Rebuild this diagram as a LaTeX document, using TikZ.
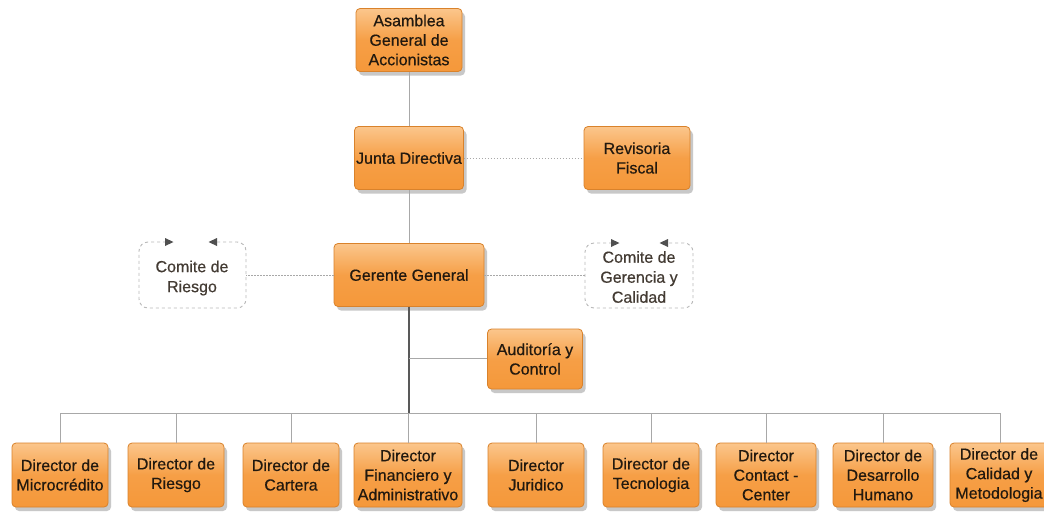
\documentclass[tikz,border=0pt]{standalone}
\usepackage{fontspec}
\setmainfont{Liberation Sans}
\newfontface\semib{Liberation Sans}[FakeBold=0.5]
\usetikzlibrary{shadows,calc,arrows.meta}
\definecolor{boxtop}{HTML}{FBC68C}
\definecolor{boxbot}{HTML}{F5983A}
\definecolor{boxline}{HTML}{D9822B}
\definecolor{txt}{HTML}{22190F}
\definecolor{conn}{HTML}{A8A8A8}
\definecolor{tipc}{HTML}{505050}
\tikzset{
  orgbox/.style={draw=boxline, line width=0.8pt, rounded corners=4pt,
    top color=boxtop, bottom color=boxbot, middle color=boxbot!85!boxtop,
    drop shadow={shadow xshift=3pt, shadow yshift=-4pt, opacity=0.3, fill=black!70},
    align=center, text=txt, inner sep=1pt,
    font=\fontsize{16}{19.5}\semib},
  plaintxt/.style={align=center, text=txt!85, inner sep=1pt,
    font=\fontsize{16}{20}\semib},
  cycline/.style={draw=gray!55, dash pattern=on 3pt off 3pt, line width=0.9pt,
    rounded corners=9pt},
  tip/.style={fill=tipc, draw=none},
  solidc/.style={draw=conn, line width=0.8pt},
  mainc/.style={draw=gray!70!black, line width=1.3pt},
  dotc/.style={draw=conn, line width=0.8pt, dash pattern=on 1.5pt off 1.5pt},
}
\begin{document}
\begin{tikzpicture}[x=1pt,y=-1pt]
\useasboundingbox[fill=white] (0,0) rectangle (1044,512);
% top part
\node[orgbox, minimum width=106pt, minimum height=63pt] (asam) at (409,40) {Asamblea\\General de\\Accionistas};
\node[orgbox, minimum width=109pt, minimum height=63pt] (junta) at (409,158) {Junta Directiva};
\node[orgbox, minimum width=106pt, minimum height=63pt] (rev) at (637,158) {Revisoria\\Fiscal};
\node[orgbox, minimum width=150pt, minimum height=63pt] (ger) at (409,275) {Gerente General};
\node[plaintxt] (crisk) at (192,278) {Comite de\\Riesgo};
\node[plaintxt] (cgc) at (639,277) {Comite de\\Gerencia y\\Calidad};
\node[orgbox, minimum width=95pt, minimum height=60pt] (aud) at (535,359) {Auditoría y\\Control};
% bottom row
\foreach \n/\x/\w/\t in {
 d1/60/96/{Director de\\Microcrédito},
 d2/176/96/{Director de\\Riesgo},
 d3/291/96/{Director de\\Cartera},
 d4/408/108/{Director\\Financiero y\\Administrativo},
 d5/536/96/{Director\\Juridico},
 d6/651/96/{Director de\\Tecnologia},
 d7/766/100/{Director\\Contact -\\Center},
 d8/883/100/{Director de\\Desarrollo\\Humano},
 d9/999/98/{Director de\\Calidad y\\Metodologia}}
 {\node[orgbox, minimum width=\w pt, minimum height=64pt] (\n) at (\x,475) {\t};}
% cycle boxes (dashed loops with arrow tips)
\coordinate (criskE) at (246,275);
\coordinate (cgcW) at (585,275);
\draw[cycline] (166,242) -- (139,242) -- (139,308) -- (246,308) -- (246,242) -- (216,242);
\fill[tip] (165,238) -- (173.5,242) -- (165,246) -- cycle;
\fill[tip] (217,238) -- (208.5,242) -- (217,246) -- cycle;
\draw[cycline] (612,243) -- (585,243) -- (585,308) -- (693,308) -- (693,243) -- (667,243);
\fill[tip] (611,239) -- (619.5,243) -- (611,247) -- cycle;
\fill[tip] (668,239) -- (659.5,243) -- (668,247) -- cycle;
% connectors
\coordinate (bus) at (409,413);
\coordinate (audj) at (409,358);
\draw[solidc] (asam.south) -- (junta.north);
\draw[solidc] (junta.south) -- (ger.north);
\draw[dotc] (junta.east) -- (rev.west);
\draw[dotc] (ger.west) -- (criskE);
\draw[dotc] (ger.east) -- (cgcW);
\draw[mainc] (ger.south) -- (bus);
\draw[solidc] (audj) -- (audj -| aud.west);
\draw[solidc] (d1.north) -- (d1.north |- bus) -| ([xshift=1pt]d9.north);
\foreach \n in {d2,d3,d4,d5,d6,d7,d8}{\draw[solidc] (\n.north) -- (\n.north |- bus);}
\end{tikzpicture}
\end{document}
